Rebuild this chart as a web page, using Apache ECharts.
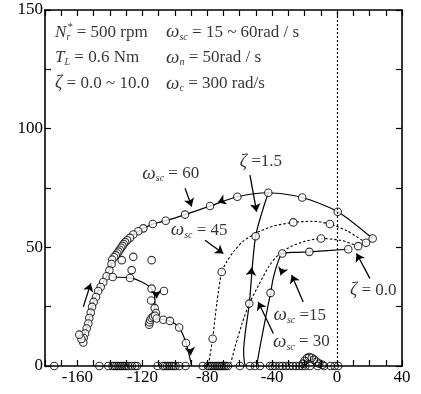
<!DOCTYPE html>
<html>
<head>
<meta charset="utf-8">
<script src="https://cdn.jsdelivr.net/npm/echarts@6/dist/echarts.min.js"></script>
<style>
  html, body { margin: 0; padding: 0; background: #fff; }
  #chart { width: 421px; height: 394px; }
</style>
</head>
<body>
<div id="chart"></div>
<script>
// Axis tick labels
const xTickLabels = [-160, -120, -80, -40, 0, 40];
const yTickLabels = [0, 50, 100, 150];

// Root loci (real part, imaginary part) as zeta sweeps 0.0 ~ 10.0
const locus60 = [[21.9, 53.7], [0.4, 65], [-21.5, 71], [-42.4, 73], [-61.5, 71.3], [-78.3, 67.4],
  [-93.7, 63.8], [-105.6, 61.2], [-113.6, 59.8], [-119.4, 58], [-122.5, 56.8], [-125.6, 55.4],
  [-127.6, 54], [-129.4, 53], [-130.6, 52.2], [-131.5, 51.4], [-132.3, 50.6], [-133.1, 49.8],
  [-133.9, 49], [-134.7, 48.2], [-135.5, 47.4], [-136.4, 46.6], [-137.4, 45.8], [-138.6, 44.8],
  [-139, 43], [-140.3, 40.3], [-142, 37.8], [-144.1, 35.4], [-145.7, 33.3], [-147.2, 31.6],
  [-148.6, 29.1], [-150, 27], [-151, 24.9], [-151.8, 22.5], [-152.7, 20.2], [-153.3, 17.9],
  [-154.3, 15.8], [-155.3, 13.7], [-156.2, 11.8], [-156.4, 9.9], [-157.6, 11.4], [-158.9, 13.2]];

const locus45 = [[17.8, 51.9], [6, 57], [-4.4, 59.8], [-15, 61], [-27, 60.5], [-40, 58.8],
  [-50, 56], [-58, 52.5], [-64, 48], [-68, 44], [-71.1, 39.6], [-74, 27], [-76.7, 11.5], [-79.4, 0]];
const roots45 = [[17.8, 51.9], [-4.4, 59.8], [-27, 60.5], [-71.1, 39.6], [-76.7, 11.5]];

const locus30 = [[13, 50.5], [2, 53], [-9.9, 53.7], [-20, 52.5], [-28, 50.5], [-36, 47], [-42, 42],
  [-48, 34.5], [-54.1, 26.3], [-58.5, 18], [-62.5, 9], [-66, 0]];
const roots30 = [[13, 50.5], [-9.9, 53.7]];

const locus15 = [[6.9, 49.2], [-17.1, 48.1], [-26, 47.9], [-33.8, 47.4], [-37.3, 42], [-39.5, 36.5],
  [-41, 30.8], [-44, 20.5], [-47, 10], [-49.6, 0]];
const roots15 = [[6.9, 49.2], [-17.1, 48.1], [-33.8, 47.4], [-41, 30.8]];

// Constant-zeta line (zeta = 1.5)
const zeta15 = [[-42.4, 73], [-50.2, 54.7], [-54.1, 26.3], [-56.6, 14], [-57.6, 6], [-57.2, 2], [-56.6, 0]];
const zeta15Roots = [[-50.2, 54.7], [-54.1, 26.3]];

// Low-frequency branches
const branchA = [[-138.3, 37.5], [-127.6, 37.1], [-120, 35.3], [-114.3, 32.6], [-112.3, 28.5],
  [-112.4, 24.4], [-113.8, 21], [-115.3, 18.6]];
const rootsA = [[-138.3, 37.5], [-127.6, 37.1], [-114.3, 32.6], [-114.6, 27.6], [-112.4, 24.4],
  [-111.6, 22.3], [-115.8, 17.4], [-115.6, 18.4], [-115.1, 19.4], [-114.3, 20.2], [-113.3, 20.8],
  [-112.2, 21.2]];
const branchB = [[-115.3, 18.6], [-111.2, 20], [-107.1, 19.5], [-103, 19], [-97.3, 16.2],
  [-93.1, 9.7], [-89.6, 0]];
const rootsB = [[-111.2, 20], [-107.1, 19.5], [-103, 19], [-97.3, 16.2], [-93.1, 9.7]];

// Scattered complex roots
const looseRoots = [[-132.7, 44.6], [-125.6, 46], [-114.3, 44.6], [-126.6, 40.4], [-106.7, 31.6]];
const nearOriginRoots = [[-21, 1], [-20, 2.2], [-18.6, 3.3], [-17.2, 3.8], [-15.6, 3.5], [-14.2, 2.7],
  [-12.6, 1.8], [-11, 1], [-9, 0.5]];

// Real roots on the horizontal axis
const realRoots = [-174.3, -146.5, -141, -138.4, -137.2, -136, -134.8, -133.6, -132.4, -131.2,
  -130, -128.7, -126.5, -124.5, -123.3, -110.6, -107.3, -106, -104.7, -103.4, -102.1, -100.8,
  -99.6, -97.2, -93.4, -82.8, -79.6, -78.5, -77.4, -76.3, -75.2, -74.1, -73, -71.9, -70.8,
  -69.7, -68.6, -67.3, -59.9, -53.7, -50.6, -47.5, -41.4, -39.8, -38.2, -35.4, -33.6, -31.5,
  -29.3, -27.2, -25.2, -23.2, -21.4, -19.6, -16.7, -12, -8, -4, -1.5, 0.7];

// Pointer arrows: [from, to]
const pointers = [
  [[-93.7, 74.9], [-89.6, 67.2]],
  [[-53.7, 80.4], [-49.6, 65]],
  [[-81.4, 53], [-70.1, 47.4]],
  [[-20.9, 27], [-28, 38.3]],
  [[-39.3, 13.7], [-48.6, 27]],
  [[20.2, 36.9], [12, 47.4]],
  [[-156.4, 24.9], [-151.8, 34.8]]
];
// Direction marks on the loci: [from, to]
const heads = [
  [[-70.5, 69.7], [-73.5, 68.9]],
  [[-53, 38.5], [-52.6, 41.5]],
  [[-33.4, 41], [-34.8, 38.2]],
  [[-111.4, 31], [-111.1, 28.5]],
  [[-90.6, 7], [-90.2, 4.5]]
];

// Curve labels (centred on the given point)
const curveLabels = [
  { at: [-102.5, 81.1], text: '{w|ω}{s|sc}{n| = 60}' },
  { at: [-47, 86], text: '{z|ζ}{n| =1.5}' },
  { at: [-85, 57.2], text: '{w|ω}{s|sc}{n| = 45}' },
  { at: [-23, 21.4], text: '{w|ω}{s|sc}{n| =15}' },
  { at: [-22, 10.1], text: '{w|ω}{s|sc}{n| = 30}' },
  { at: [22.3, 31.9], text: '{z|ζ}{n| = 0.0}' }
];

// Condition notes (left-aligned at the given point)
const notes = [
  { at: [-173.8, 140.7], text: '{i|N}{sb|r}{sp|*}{n| = 500 rpm}' },
  { at: [-173.8, 129.9], text: '{i|T}{s|L}{n| = 0.6 Nm}' },
  { at: [-173.8, 119.0], text: '{z|ζ}{n| = 0.0 ~ 10.0}' },
  { at: [-105.4, 140.7], text: '{w|ω}{s|sc}{n| = 15 ~ 60rad / s}' },
  { at: [-105.4, 129.9], text: '{w|ω}{s|n}{n| = 50rad / s}' },
  { at: [-105.4, 119.0], text: '{w|ω}{r|c}{n| = 300 rad/s}' }
];

const FONT = "'Liberation Serif', 'Times New Roman', 'DejaVu Serif', serif";
const rich = {
  n: { fontFamily: FONT, fontSize: 17, color: '#000', lineHeight: 20 },
  i: { fontFamily: FONT, fontSize: 17, fontStyle: 'italic', color: '#000', lineHeight: 20 },
  z: { fontFamily: FONT, fontSize: 18, fontStyle: 'italic', color: '#000', lineHeight: 20 },
  w: { fontFamily: FONT, fontSize: 19, fontStyle: 'italic', color: '#000', lineHeight: 20 },
  s: { fontFamily: FONT, fontSize: 10, fontStyle: 'italic', color: '#000', lineHeight: 9, verticalAlign: 'bottom' },
  r: { fontFamily: FONT, fontSize: 10, color: '#000', lineHeight: 9, verticalAlign: 'bottom' },
  sb: { fontFamily: FONT, fontSize: 10, fontStyle: 'italic', color: '#000', lineHeight: 9, verticalAlign: 'bottom', width: 1 },
  sp: { fontFamily: FONT, fontSize: 11, color: '#000', lineHeight: 9, verticalAlign: 'top', width: 5 },
  t: { fontFamily: FONT, fontSize: 17, color: '#000' }
};

const chart = echarts.init(document.getElementById('chart'), null, { renderer: 'canvas' });

const axisLineStyle = { color: '#000', width: 1.6 };
const xAxisBase = {
  type: 'value', min: -180, max: 40, interval: 10,
  axisLine: { show: true, onZero: false, lineStyle: axisLineStyle },
  axisTick: { show: true, inside: true, length: 6, lineStyle: { color: '#000', width: 1.2 } },
  splitLine: { show: false }
};
const yAxisBase = {
  type: 'value', min: 0, max: 150, interval: 25,
  axisLine: { show: true, onZero: false, lineStyle: axisLineStyle },
  axisTick: { show: true, inside: true, length: 6, lineStyle: { color: '#000', width: 1.2 } },
  splitLine: { show: false }
};

const circle = { color: '#fff', borderColor: '#000', borderWidth: 1.1 };
function rootSeries(points, fill) {
  return {
    type: 'scatter', data: points, symbol: 'circle', symbolSize: 7.5, z: 4,
    itemStyle: fill ? circle : { color: 'rgba(0,0,0,0)', borderColor: '#000', borderWidth: 1.1 },
    silent: true
  };
}
function curve(points, dashed) {
  return {
    type: 'line', data: points, showSymbol: false, smooth: 0.25, z: 3, silent: true,
    lineStyle: { color: '#000', width: dashed ? 1.1 : 1.2, type: dashed ? [2.5, 2] : 'solid' }
  };
}
function textSeries(items, align) {
  return {
    type: 'scatter', silent: true, z: 6, symbol: 'circle', symbolSize: 1,
    itemStyle: { color: 'rgba(255,255,255,0)' },
    label: { show: true, position: 'inside', align: align, verticalAlign: 'middle', rich: rich,
      formatter: p => items[p.dataIndex].text },
    data: items.map(c => c.at)
  };
}

const option = {
  animation: false,
  backgroundColor: '#fff',
  grid: { left: 45, right: 19, top: 10, bottom: 28 },
  xAxis: [
    Object.assign({}, xAxisBase, {
      position: 'bottom',
      axisLabel: {
        show: true, margin: 3, rich: rich,
        formatter: v => (xTickLabels.indexOf(v) >= 0 ? '{t|' + v + '}' : '')
      }
    }),
    Object.assign({}, xAxisBase, { position: 'top', axisLabel: { show: false } })
  ],
  yAxis: [
    Object.assign({}, yAxisBase, {
      position: 'left',
      axisLabel: {
        show: true, margin: 2, rich: rich,
        formatter: v => (yTickLabels.indexOf(v) >= 0 ? '{t|' + v + '}' : '')
      }
    }),
    Object.assign({}, yAxisBase, { position: 'right', axisLabel: { show: false } })
  ],
  series: [
    // imaginary axis marker
    {
      type: 'line', data: [], silent: true,
      markLine: {
        silent: true, symbol: ['none', 'none'], label: { show: false },
        lineStyle: { color: '#000', width: 1.2, type: [2, 2] },
        data: [{ xAxis: 0 }]
      }
    },
    curve(locus60, false),
    curve(locus45, true),
    curve(locus30, true),
    curve(locus15, false),
    curve(zeta15, false),
    curve(branchA, false),
    curve(branchB, false),
    rootSeries(locus60, true),
    rootSeries(roots45, true),
    rootSeries(roots30, true),
    rootSeries(roots15, true),
    rootSeries(zeta15Roots, true),
    rootSeries(rootsA, true),
    rootSeries(rootsB, true),
    rootSeries(looseRoots, true),
    rootSeries(nearOriginRoots, false),
    rootSeries(realRoots.map(x => [x, 0]), false),
    {
      type: 'lines', coordinateSystem: 'cartesian2d', silent: true, z: 5,
      symbol: ['none', 'arrow'], symbolSize: 8,
      lineStyle: { color: '#000', width: 1.3, opacity: 1, curveness: 0 },
      data: pointers.map(p => ({ coords: p }))
    },
    {
      type: 'lines', coordinateSystem: 'cartesian2d', silent: true, z: 5,
      symbol: ['none', 'arrow'], symbolSize: 8,
      lineStyle: { color: '#000', width: 1, opacity: 1, curveness: 0 },
      data: heads.map(p => ({ coords: p }))
    },
    textSeries(curveLabels, 'center'),
    textSeries(notes, 'left')
  ]
};

chart.setOption(option);
</script>
</body>
</html>
